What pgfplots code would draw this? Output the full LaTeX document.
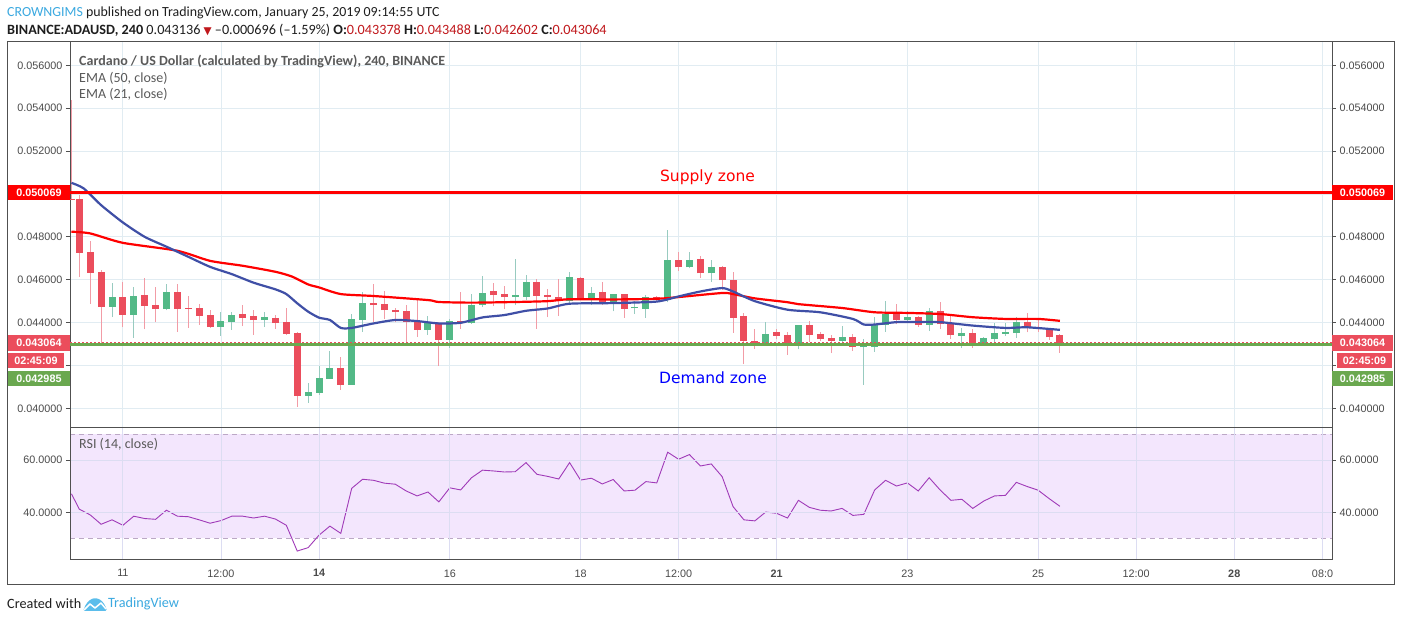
\documentclass[border=0pt]{standalone}
\usepackage{fontspec}
\usepackage{pgfplots}
\usepackage{pgfplotstable}
\pgfplotsset{compat=1.18}
\setmainfont{Carlito}
\newfontfamily\lib{Liberation Sans}
\newfontfamily\dejavu{DejaVu Sans}

\definecolor{upc}{HTML}{53B987}
\definecolor{dnc}{HTML}{EB4D5C}
\definecolor{upw}{HTML}{98CBC0}
\definecolor{dnw}{HTML}{F29CA6}
\definecolor{gridc}{HTML}{E1ECF2}
\definecolor{axc}{HTML}{505050}
\definecolor{lbl}{HTML}{4A4A4A}
\definecolor{leg}{HTML}{5A5A5A}
\definecolor{hdr}{HTML}{1E1E1E}
\definecolor{emab}{HTML}{3F4FA6}
\definecolor{rsifill}{HTML}{F3E6FD}
\definecolor{rsil}{HTML}{A03AB8}
\definecolor{rsidash}{HTML}{BCA8C6}
\definecolor{rsigrid}{HTML}{DCDDF2}
\definecolor{demand}{HTML}{6AA84F}
\definecolor{tvblue}{HTML}{3BA9E0}
\definecolor{valred}{HTML}{C0171B}
\definecolor{tvlogo}{HTML}{5BBDEB}

% OHLC candles (4h), index 0 = Jan 11 00:00
\pgfplotstableread{
i o h l c
-4.72 0.04976 0.05437 0.04975 0.04975
-4 0.04976 0.04995 0.04614 0.04726
-3 0.04729 0.04780 0.04488 0.04632
-2 0.04636 0.04645 0.04303 0.04474
-1 0.04474 0.04586 0.04426 0.04519
0 0.04519 0.04589 0.04379 0.04437
1 0.04437 0.04566 0.04329 0.04524
2 0.04528 0.04606 0.04370 0.04479
3 0.04482 0.04566 0.04402 0.04463
4 0.04463 0.04580 0.04457 0.04542
5 0.04542 0.04580 0.04357 0.04463
6 0.04468 0.04524 0.04375 0.04465
7 0.04468 0.04486 0.04389 0.04432
8 0.04435 0.04458 0.04376 0.04379
9 0.04379 0.04449 0.04339 0.04407
10 0.04404 0.04449 0.04367 0.04435
11 0.04440 0.04482 0.04384 0.04421
12 0.04430 0.04458 0.04343 0.04412
13 0.04412 0.04449 0.04379 0.04426
14 0.04421 0.04435 0.04371 0.04398
15 0.04402 0.04468 0.04342 0.04347
16 0.04351 0.04356 0.04008 0.04059
17 0.04059 0.04118 0.04026 0.04076
18 0.04073 0.04197 0.04064 0.04141
19 0.04138 0.04267 0.04138 0.04188
20 0.04188 0.04241 0.04087 0.04110
21 0.04110 0.04440 0.04110 0.04416
22 0.04412 0.04542 0.04357 0.04491
23 0.04491 0.04580 0.04402 0.04482
24 0.04486 0.04547 0.04416 0.04458
25 0.04458 0.04468 0.04402 0.04449
26 0.04454 0.04482 0.04311 0.04402
27 0.04402 0.04505 0.04334 0.04367
28 0.04367 0.04430 0.04343 0.04395
29 0.04395 0.04402 0.04199 0.04320
30 0.04320 0.04416 0.04283 0.04407
31 0.04407 0.04542 0.04371 0.04398
32 0.04398 0.04533 0.04395 0.04482
33 0.04482 0.04617 0.04472 0.04538
34 0.04547 0.04584 0.04477 0.04528
35 0.04533 0.04570 0.04463 0.04519
36 0.04519 0.04696 0.04482 0.04528
37 0.04519 0.04622 0.04505 0.04589
38 0.04589 0.04603 0.04371 0.04524
39 0.04528 0.04556 0.04426 0.04519
40 0.04519 0.04603 0.04433 0.04503
41 0.04503 0.04638 0.04483 0.04609
42 0.04605 0.04614 0.04509 0.04516
43 0.04516 0.04566 0.04484 0.04534
44 0.04539 0.04591 0.04484 0.04497
45 0.04497 0.04534 0.04452 0.04530
46 0.04530 0.04530 0.04422 0.04464
47 0.04466 0.04500 0.04442 0.04470
48 0.04464 0.04530 0.04422 0.04516
49 0.04516 0.04522 0.04497 0.04506
50 0.04506 0.04834 0.04494 0.04689
51 0.04689 0.04728 0.04642 0.04658
52 0.04658 0.04731 0.04653 0.04689
53 0.04694 0.04709 0.04609 0.04630
54 0.04630 0.04694 0.04591 0.04656
55 0.04656 0.04666 0.04553 0.04598
56 0.04598 0.04638 0.04353 0.04423
57 0.04431 0.04444 0.04206 0.04314
58 0.04314 0.04370 0.04278 0.04302
59 0.04302 0.04402 0.04291 0.04347
60 0.04352 0.04370 0.04322 0.04339
61 0.04340 0.04355 0.04251 0.04300
62 0.04300 0.04391 0.04275 0.04386
63 0.04386 0.04409 0.04309 0.04342
64 0.04345 0.04358 0.04314 0.04323
65 0.04326 0.04340 0.04258 0.04314
66 0.04314 0.04386 0.04309 0.04329
67 0.04329 0.04345 0.04268 0.04286
68 0.04286 0.04322 0.04111 0.04292
69 0.04286 0.04428 0.04263 0.04391
70 0.04391 0.04502 0.04358 0.04440
71 0.04440 0.04485 0.04392 0.04411
72 0.04411 0.04454 0.04405 0.04423
73 0.04423 0.04431 0.04380 0.04388
74 0.04388 0.04469 0.04360 0.04451
75 0.04451 0.04497 0.04369 0.04392
76 0.04392 0.04440 0.04325 0.04340
77 0.04337 0.04377 0.04283 0.04349
78 0.04349 0.04368 0.04282 0.04294
79 0.04297 0.04335 0.04294 0.04326
80 0.04322 0.04397 0.04306 0.04349
81 0.04348 0.04400 0.04337 0.04355
82 0.04351 0.04428 0.04329 0.04400
83 0.04400 0.04443 0.04354 0.04377
84 0.04378 0.04411 0.04358 0.04369
85 0.04369 0.04377 0.04320 0.04331
86 0.043378 0.043488 0.042602 0.043064
}\ohlc

% EMA (50, close)
\pgfplotstableread{
i v
-4.72 0.04824
-3 0.04816
0 0.04772
5 0.04735
8 0.04688
11 0.04665
14 0.04637
15.5 0.04615
17 0.04578
18 0.04564
20 0.04533
23 0.04524
28 0.04505
29 0.04496
32 0.04493
36 0.04496
39 0.04500
41 0.04509
45 0.04508
49 0.04511
51 0.04519
55 0.04538
56 0.04533
58 0.04513
61 0.04495
62 0.04486
66 0.04468
69 0.04448
72 0.04445
75 0.04440
78 0.04425
81 0.04417
84 0.04417
86 0.04408
}\emar

% EMA (21, close)
\pgfplotstableread{
i v
-4.72 0.05052
-3.6 0.05026
-2 0.04948
0 0.04867
2 0.04800
4 0.04754
6 0.04707
8 0.04660
10 0.04626
12 0.04586
14 0.04555
15 0.04533
16 0.04490
17 0.04451
18 0.04423
19 0.04412
20 0.04375
21 0.04375
23 0.04396
25 0.04412
27 0.04407
29 0.04396
31 0.04399
33 0.04424
35 0.04435
37 0.04455
39 0.04466
41 0.04488
45 0.04491
49 0.04498
51 0.04522
53 0.04545
55 0.04561
56 0.04545
58 0.04500
61 0.04460
64 0.04448
67 0.04417
68 0.04391
69 0.04391
71 0.04402
73 0.04403
75 0.04402
78 0.04386
81 0.04375
83 0.04378
86 0.04366
}\emab

% RSI (14, close)
\pgfplotstableread{
i v
-4.72 47.1
-4 41.2
-3 39.0
-2 35.4
-1 37.1
0 35.0
1 38.5
2 37.6
3 37.3
4 40.8
5 38.5
6 38.3
7 37.1
8 35.8
9 36.8
10 38.5
11 38.5
12 37.8
13 38.5
14 37.4
15 35.0
16 25.1
17 26.4
18 31.2
19 34.7
20 31.9
21 49.2
22 52.7
23 52.3
24 51.2
25 50.8
26 48.2
27 46.3
28 47.8
29 44.0
30 49.4
31 48.6
32 53.3
33 56.2
34 55.9
35 55.5
36 55.6
37 59.1
38 54.6
39 53.8
40 52.8
41 59.1
42 52.4
43 53.1
44 50.9
45 52.6
46 48.2
47 48.5
48 51.8
49 51.3
50 63.1
51 60.4
52 62.2
53 57.8
54 58.6
55 53.7
56 42.2
57 37.1
58 36.7
59 40.1
60 39.6
61 37.8
62 44.6
63 41.9
64 40.8
65 40.5
66 41.5
67 38.8
68 39.2
69 48.6
70 52.3
71 50.1
72 51.3
73 48.2
74 53.3
75 48.6
76 44.6
77 45.0
78 41.5
79 44.3
80 46.3
81 46.5
82 51.5
83 49.9
84 48.5
85 45.3
86 42.3
}\rsi

\pgfplotsset{
  tvbase/.style={
    scale only axis, width=1262pt, anchor=south west,
    xmin=-4.855, xmax=110.97,
    axis line style={draw=axc, line width=0.9pt},
    tick style={draw=axc, line width=0.8pt},
    major tick length=4pt, tick align=outside,
    tick label style={font=\lib\fontsize{10.8}{12}\selectfont, text=lbl},
    /pgf/number format/assume math mode=true,
    scaled y ticks=false,
    xtick={0,9,18,30,42,51,60,72,84,93,102,110.1},
    xtick style={draw=none},
  },
  pricey/.style={
    height=386pt, ymin=0.039128, ymax=0.057138,
    ytick={0.040,0.042,0.044,0.046,0.048,0.050,0.052,0.054,0.056},
    % the 0.042000 label is hidden behind the price boxes in the original
    yticklabels={0.040000,,0.044000,0.046000,0.048000,0.050000,0.052000,0.054000,0.056000},
  },
  rsiy/.style={
    height=132pt, ymin=22.04, ymax=72.8, ytick={40,60},
    yticklabel style={/pgf/number format/.cd, fixed, fixed zerofill, precision=4},
  },
}

\begin{document}
\begin{tikzpicture}
\path[use as bounding box, fill=white] (0pt,0pt) rectangle (1401pt,621pt);

% ---------- price pane ----------
\begin{axis}[tvbase, pricey, at={(70pt,194pt)},
  xticklabels={}, yticklabel pos=left, ytick pos=both,
  xmajorgrids, ymajorgrids, grid style={draw=gridc, line width=0.9pt}]
  % wicks
  \addplot[draw=none, mark=none, restrict expr to domain={1000000*(\thisrow{c}-\thisrow{o})}{0:100000},
    error bars/.cd, y dir=plus, y explicit, error mark=none,
    error bar style={draw=upw, line width=1pt}]
    table[x=i, y=l, y error plus expr=\thisrow{h}-\thisrow{l}] {\ohlc};
  \addplot[draw=none, mark=none, restrict expr to domain={1000000*(\thisrow{o}-\thisrow{c})}{0.001:100000},
    error bars/.cd, y dir=plus, y explicit, error mark=none,
    error bar style={draw=dnw, line width=1pt}]
    table[x=i, y=l, y error plus expr=\thisrow{h}-\thisrow{l}] {\ohlc};
  % bodies
  \addplot[draw=none, mark=none, restrict expr to domain={1000000*(\thisrow{c}-\thisrow{o})}{0:100000},
    error bars/.cd, y dir=plus, y explicit, error mark=none,
    error bar style={draw=upc, line width=7pt}]
    table[x=i, y=o, y error plus expr=\thisrow{c}-\thisrow{o}+0.00002] {\ohlc};
  \addplot[draw=none, mark=none, restrict expr to domain={1000000*(\thisrow{o}-\thisrow{c})}{0.001:100000},
    error bars/.cd, y dir=plus, y explicit, error mark=none,
    error bar style={draw=dnc, line width=7pt}]
    table[x=i, y=c, y error plus expr=\thisrow{o}-\thisrow{c}+0.00002] {\ohlc};
  % EMAs
  \addplot[red, line width=2.2pt, smooth, tension=0.4] table[x=i, y=v] {\emar};
  \addplot[emab, line width=2.2pt, smooth, tension=0.4] table[x=i, y=v] {\emab};
  % supply / demand
  \addplot[red, line width=3.2pt] coordinates {(-4.855,0.050069) (110.97,0.050069)};
  \addplot[demand, line width=3pt] coordinates {(-4.855,0.042985) (110.97,0.042985)};
  \addplot[dnc, line width=0.8pt, dash pattern=on 2pt off 2pt] coordinates {(-4.855,0.043064) (110.97,0.043064)};
\end{axis}
\begin{axis}[tvbase, pricey, at={(70pt,194pt)},
  axis x line=none, axis y line*=right, yticklabel pos=right]
  \addplot[draw=none] coordinates {(0,0.045)};
\end{axis}

% ---------- RSI pane ----------
\begin{axis}[tvbase, rsiy, at={(70pt,62pt)}, axis on top,
  xticklabels={11,12:00,{\bfseries 14},16,18,12:00,{\bfseries 21},23,25,12:00,{\bfseries 28},08:0},
  xticklabel shift=3pt,
  yticklabel pos=left, ytick pos=both,
  xmajorgrids, ymajorgrids, grid style={draw=rsigrid, line width=0.9pt}]
  \addplot[fill=rsifill, draw=none] coordinates {(-4.855,30) (110.97,30) (110.97,70) (-4.855,70)} -- cycle;
  \addplot[rsidash, line width=0.8pt, dash pattern=on 5pt off 4pt] coordinates {(-4.855,70) (110.97,70)};
  \addplot[rsidash, line width=0.8pt, dash pattern=on 5pt off 4pt] coordinates {(-4.855,30) (110.97,30)};
  \addplot[rsil, line width=0.9pt] table[x=i, y=v] {\rsi};
\end{axis}
\begin{axis}[tvbase, rsiy, at={(70pt,62pt)},
  axis x line=none, axis y line*=right, yticklabel pos=right]
  \addplot[draw=none] coordinates {(0,50)};
\end{axis}

% ---------- frame ----------
\draw[axc, line width=0.9pt] (7pt,37pt) rectangle (1394pt,580pt);

% ---------- header ----------
\node[anchor=base west, inner sep=0, font=\fontsize{13.9}{16}\selectfont, text=hdr] at (7pt,604pt)
  {\textcolor{tvblue}{CROWNGIMS} published on TradingView.com, January 25, 2019 09:14:55 UTC};
\node[anchor=base west, inner sep=0, font=\fontsize{14.2}{16}\selectfont, text=hdr] at (7pt,586.5pt)
  {\textbf{BINANCE:ADAUSD, 240} 0.043136 {\dejavu\fontsize{10.5}{12}\selectfont\textcolor{valred}{▼}} –0.000696 (–1.59\%)
   \textbf{O:}\textcolor{valred}{0.043378} \textbf{H:}\textcolor{valred}{0.043488}
   \textbf{L:}\textcolor{valred}{0.042602} \textbf{C:}\textcolor{valred}{0.043064}};

% ---------- legends ----------
\node[anchor=west, inner sep=0, font=\fontsize{14}{16}\selectfont\bfseries, text=leg] at (79pt,559.5pt)
  {Cardano / US Dollar (calculated by TradingView), 240, BINANCE};
\node[anchor=west, inner sep=0, font=\fontsize{14}{16}\selectfont, text=leg] at (79pt,543pt) {EMA (50, close)};
\node[anchor=west, inner sep=0, font=\fontsize{14}{16}\selectfont, text=leg] at (79pt,526.5pt) {EMA (21, close)};
\node[anchor=west, inner sep=0, font=\fontsize{14}{16}\selectfont, text=leg] at (79pt,177pt) {RSI (14, close)};

% ---------- zone texts ----------
\node[font=\dejavu\fontsize{15.5}{18}\selectfont, text=red] at (707.5pt,444pt) {Supply zone};
\node[font=\dejavu\fontsize{15.5}{18}\selectfont, text=blue] at (713pt,243pt) {Demand zone};

% ---------- price boxes ----------
\tikzset{pbox/.style={inner sep=0, minimum height=15.5pt, text=white, font=\lib\bfseries\fontsize{10.8}{12}\selectfont}}
\node[pbox, fill=red, minimum width=62pt] at (39pt,428.6pt) {0.050069};
\node[pbox, fill=dnc, minimum width=62pt] at (39pt,278pt) {0.043064};
\node[pbox, fill=dnc, minimum width=56pt] at (36pt,260.5pt) {02:45:09};
\node[pbox, fill=demand, minimum width=62pt] at (39pt,242.5pt) {0.042985};
\node[pbox, fill=red, minimum width=61pt] at (1362.5pt,428.6pt) {0.050069};
\node[pbox, fill=dnc, minimum width=61pt] at (1362.5pt,278pt) {0.043064};
\node[pbox, fill=dnc, minimum width=55pt] at (1364.5pt,260.5pt) {02:45:09};
\node[pbox, fill=demand, minimum width=61pt] at (1362.5pt,242.5pt) {0.042985};

% ---------- footer ----------
\node[anchor=west, inner sep=0, font=\fontsize{14.2}{16}\selectfont, text=hdr] at (7pt,17pt) {Created with};
\fill[tvlogo, rounded corners=1.5pt] (83pt,10pt) -- (86pt,17pt) -- (91pt,22pt) -- (96pt,23pt) -- (101pt,21pt) -- (105pt,16pt) -- (107pt,10pt) -- cycle;
\draw[white, line width=1.5pt, line join=round] (84pt,11pt) -- (90pt,17pt) -- (95pt,13pt) -- (101pt,18pt) -- (106pt,12pt);
\node[anchor=west, inner sep=0, font=\fontsize{14.2}{16}\selectfont, text=tvblue] at (108pt,17pt) {TradingView};
\end{tikzpicture}
\end{document}
